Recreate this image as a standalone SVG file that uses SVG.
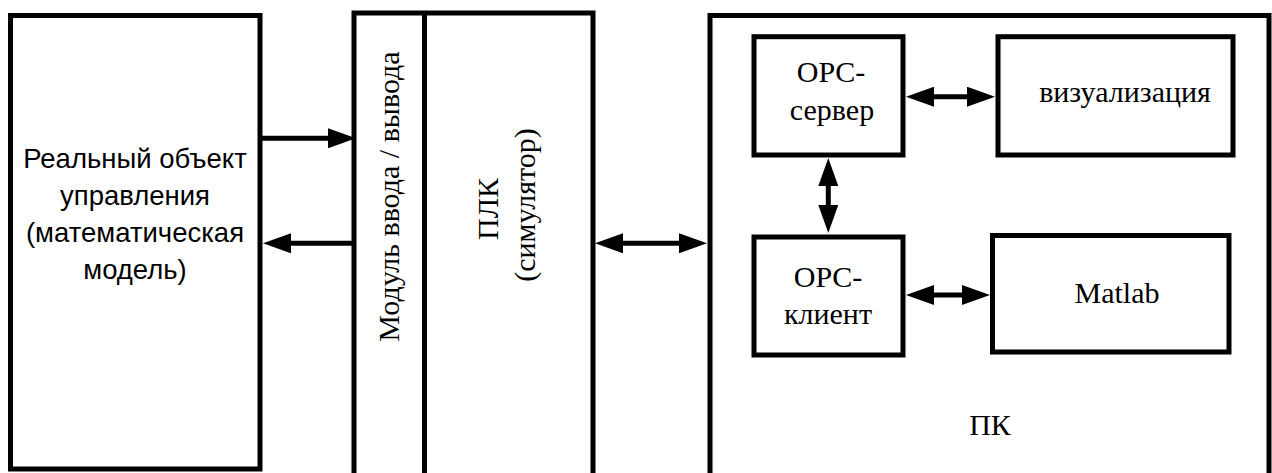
<svg xmlns="http://www.w3.org/2000/svg" width="1272" height="473" viewBox="0 0 1272 473">
<defs>
<style>
.box{fill:#fff;stroke:#000;stroke-width:5;stroke-linejoin:miter}
.ln{stroke:#000;stroke-width:5;fill:none}
.serif{font-family:"Liberation Serif","Times New Roman",serif;font-size:30px;fill:#000;text-anchor:middle}
.sans{font-family:"Liberation Sans",Arial,sans-serif;font-size:27.5px;fill:#000;text-anchor:middle}
</style>
<marker id="ah" viewBox="0 0 28 20" refX="0" refY="10" markerWidth="28" markerHeight="20" markerUnits="userSpaceOnUse" orient="auto-start-reverse"><path d="M0,0 L28,10 L0,20 Z" fill="#000"/></marker>
</defs>
<rect width="1272" height="473" fill="#fff"/>
<g id="object">
<rect class="box" x="10.5" y="15.5" width="249.5" height="453.5"/>
<text class="sans" x="135" y="168">Реальный объект</text>
<text class="sans" x="135" y="205">управления</text>
<text class="sans" x="135" y="242">(математическая</text>
<text class="sans" x="135" y="279">модель)</text>
</g>
<g id="plc">
<rect class="box" x="354" y="13" width="239" height="475"/>
<line class="ln" x1="424.5" y1="13" x2="424.5" y2="488"/>
<text class="serif" transform="translate(398.5,196.5) rotate(-90)">Модуль ввода / вывода</text>
<text class="serif" transform="translate(498,209) rotate(-90)">ПЛК</text>
<text class="serif" transform="translate(535,205) rotate(-90)">(симулятор)</text>
</g>
<g id="pc">
<rect class="box" x="710" y="15.5" width="559" height="475"/>
<text class="serif" x="990" y="435">ПК</text>
</g>
<g id="opc-server">
<rect class="box" x="754" y="36.7" width="149" height="118.3"/>
<text class="serif" x="831" y="82">OPC-</text>
<text class="serif" x="832" y="120">сервер</text>
</g>
<g id="visualization">
<rect class="box" x="998" y="36.7" width="235" height="118.3"/>
<text class="serif" x="1125" y="102">визуализация</text>
</g>
<g id="opc-client">
<rect class="box" x="754" y="237" width="149" height="118"/>
<text class="serif" x="828" y="287">OPC-</text>
<text class="serif" x="828" y="324">клиент</text>
</g>
<g id="matlab">
<rect class="box" x="992.5" y="235.5" width="236.5" height="116.5"/>
<text class="serif" x="1117" y="303">Matlab</text>
</g>
<g id="connectors">
<path class="ln" d="M262,138.3 H328" marker-end="url(#ah)"/>
<path class="ln" d="M352,243.3 H291" marker-end="url(#ah)"/>
<path class="ln" d="M623,243.3 H679" marker-start="url(#ah)" marker-end="url(#ah)"/>
<path class="ln" d="M934,96.7 H967" marker-start="url(#ah)" marker-end="url(#ah)"/>
<path class="ln" d="M828.3,186 V205" marker-start="url(#ah)" marker-end="url(#ah)"/>
<path class="ln" d="M934,295 H962" marker-start="url(#ah)" marker-end="url(#ah)"/>
</g>
</svg>
